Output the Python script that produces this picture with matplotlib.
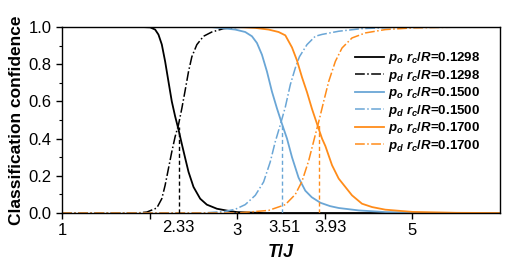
import matplotlib
matplotlib.use("Agg")
import matplotlib.pyplot as plt

plt.rcParams['font.family'] = ['Liberation Sans', 'DejaVu Sans']
plt.rcParams['mathtext.fontset'] = 'custom'
plt.rcParams['mathtext.it'] = 'Liberation Sans:italic:bold'
plt.rcParams['mathtext.rm'] = 'Liberation Sans:bold'

# values
t_k_o = [1.0, 1.9, 2.006, 2.063, 2.101, 2.139, 2.177, 2.215, 2.253, 2.291, 2.329, 2.368, 2.406,
         2.444, 2.501, 2.577, 2.653, 2.768, 2.882, 2.996, 3.3, 6.0]
k_o = [1.0, 1.0, 0.998, 0.986, 0.959, 0.906, 0.815, 0.707, 0.60, 0.52, 0.45, 0.37, 0.295,
       0.221, 0.140, 0.077, 0.045, 0.023, 0.013, 0.005, 0.0, 0.0]
t_k_d = [1.0, 1.85, 1.968, 2.082, 2.139, 2.177, 2.215, 2.253, 2.291, 2.329, 2.368, 2.406, 2.444,
         2.482, 2.539, 2.615, 2.710, 2.844, 2.996, 3.3, 6.0]
k_d = [0.0, 0.0, 0.005, 0.027, 0.077, 0.149, 0.239, 0.329, 0.410, 0.473, 0.563, 0.66, 0.76,
       0.84, 0.905, 0.950, 0.973, 0.991, 0.998, 1.0, 1.0]

t_b_o = [1.0, 2.7, 2.977, 3.091, 3.168, 3.225, 3.282, 3.339, 3.396, 3.453, 3.51, 3.568, 3.625,
         3.70, 3.777, 3.85, 3.95, 4.06, 4.158, 4.386, 4.69, 5.2, 6.0]
b_o = [1.0, 1.0, 0.986, 0.973, 0.950, 0.914, 0.851, 0.761, 0.653, 0.563, 0.48, 0.40, 0.30,
       0.19, 0.12, 0.085, 0.055, 0.037, 0.027, 0.014, 0.005, 0.001, 0.0]
t_b_d = [1.0, 2.6, 2.85, 2.977, 3.091, 3.206, 3.301, 3.377, 3.434, 3.491, 3.549, 3.606, 3.663,
         3.71, 3.796, 3.891, 3.968, 4.158, 4.42, 4.8, 6.0]
b_d = [0.0, 0.0, 0.008, 0.02, 0.045, 0.095, 0.167, 0.275, 0.383, 0.473, 0.57, 0.69, 0.78,
       0.84, 0.905, 0.950, 0.96, 0.977, 0.991, 0.998, 1.0]

t_o_o = [1.0, 3.0, 3.206, 3.358, 3.472, 3.549, 3.625, 3.682, 3.739, 3.796, 3.853, 3.91, 3.968,
         4.006, 4.082, 4.158, 4.234, 4.31, 4.424, 4.539, 4.69, 5.0, 5.5, 6.0]
o_o = [1.0, 1.0, 0.995, 0.986, 0.973, 0.955, 0.89, 0.82, 0.73, 0.65, 0.56, 0.48, 0.40,
       0.36, 0.257, 0.185, 0.140, 0.095, 0.050, 0.032, 0.018, 0.006, 0.001, 0.0]
t_o_d = [1.0, 3.0, 3.358, 3.549, 3.663, 3.739, 3.815, 3.891, 3.93, 3.987, 4.044, 4.12, 4.196,
         4.31, 4.463, 4.69, 5.0, 5.5, 6.0]
o_d = [0.0, 0.0, 0.014, 0.045, 0.10, 0.17, 0.28, 0.42, 0.49, 0.60, 0.707, 0.815, 0.887,
       0.941, 0.968, 0.986, 0.995, 0.999, 1.0]

tc = [2.33, 3.51, 3.93]
tc_val = [0.46, 0.48, 0.48]
tc_labels = ['2.33', '3.51', '3.93']
tc_label_pos = [2.326, 3.537, 4.063]
labels = [r'$p_o\ r_c/R$=0.1298', r'$p_d\ r_c/R$=0.1298',
          r'$p_o\ r_c/R$=0.1500', r'$p_d\ r_c/R$=0.1500',
          r'$p_o\ r_c/R$=0.1700', r'$p_d\ r_c/R$=0.1700']

c_k = 'black'
c_b = '#6aa6d6'
c_o = '#ff8c1a'
cols = [c_k, c_b, c_o]

fig = plt.figure(figsize=(5.15, 2.67), dpi=100)
ax = fig.add_axes([0.1204, 0.2022, 0.8506, 0.6968])

ax.plot(t_k_o, k_o, '-', color=c_k, lw=1.3, label=labels[0])
ax.plot(t_k_d, k_d, '-.', color=c_k, lw=1.1, label=labels[1])
ax.plot(t_b_o, b_o, '-', color=c_b, lw=1.3, label=labels[2])
ax.plot(t_b_d, b_d, '-.', color=c_b, lw=1.1, label=labels[3])
ax.plot(t_o_o, o_o, '-', color=c_o, lw=1.3, label=labels[4])
ax.plot(t_o_d, o_d, '-.', color=c_o, lw=1.1, label=labels[5])

for x, v, c in zip(tc, tc_val, cols):
    ax.plot([x, x], [0, v], '--', color=c, lw=1.0, dashes=(3, 2))

ax.set_xlim(1, 6)
ax.set_ylim(0, 1)
ax.set_xticks([1, 2, 3, 4, 5], labels=['1', '', '3', '', '5'])
ax.set_yticks([0, 0.2, 0.4, 0.6, 0.8, 1.0])
ax.set_yticks([0.1, 0.3, 0.5, 0.7, 0.9], minor=True)
ax.tick_params(axis='both', which='major', labelsize=12, length=4, width=1, direction='out')
ax.tick_params(axis='y', which='minor', length=2.5, width=0.8, direction='out')
for s in ax.spines.values():
    s.set_linewidth(1.0)

for x, lab in zip(tc_label_pos, tc_labels):
    ax.text(x, -0.04, lab, transform=ax.get_xaxis_transform(), ha='center', va='top', fontsize=12)

ax.set_xlabel(r'$T/J$', fontsize=13, labelpad=4)
ax.set_ylabel('Classification confidence', fontsize=12.5, fontweight='bold', labelpad=3)

ax.legend(loc='upper right', bbox_to_anchor=(0.975, 0.925), frameon=False,
          prop={'weight': 'bold', 'size': 9.5},
          handlelength=2.2, handletextpad=0.3, labelspacing=0.12, borderpad=0.2)

fig.savefig('out.png', dpi=100)
